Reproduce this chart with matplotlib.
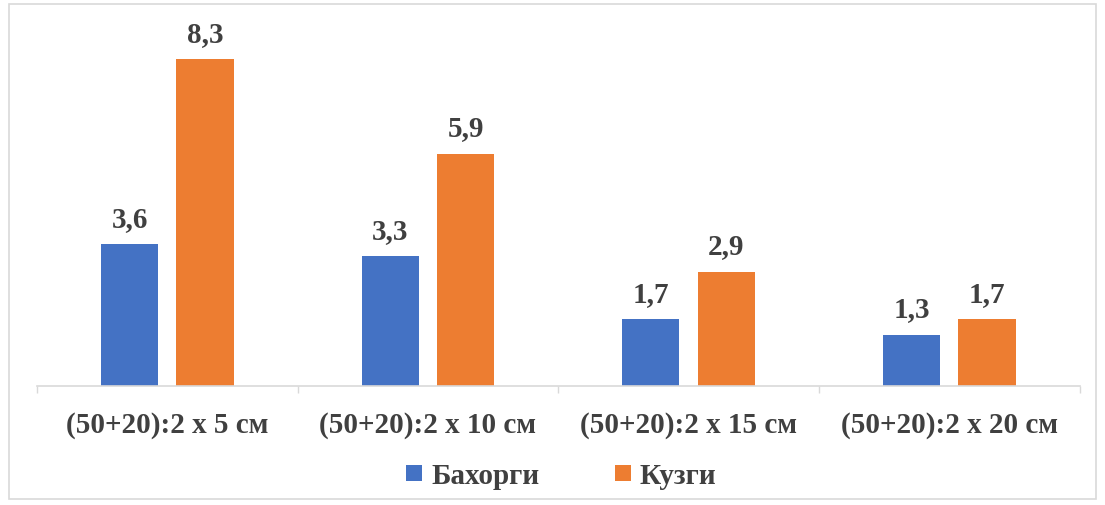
import matplotlib

matplotlib.use("Agg")
import matplotlib.pyplot as plt
import numpy as np
from matplotlib.patches import Rectangle

categories = ["(50+20):2 x 5 см", "(50+20):2 x 10 см", "(50+20):2 x 15 см", "(50+20):2 x 20 см"]
spring = [3.6, 3.3, 1.7, 1.3]
autumn = [8.3, 5.9, 2.9, 1.7]
series_names = ["Бахорги", "Кузги"]

BLUE = "#4472C4"
ORANGE = "#ED7D31"
TEXT = "#404040"
GRID = "#D9D9D9"

plt.rcParams["font.family"] = ["Liberation Serif", "DejaVu Serif"]
plt.rcParams["font.weight"] = "bold"

fig = plt.figure(figsize=(11.05, 5.06), dpi=100)
fig.patches.append(Rectangle((0.008, 0.012), 0.984, 0.978, transform=fig.transFigure,
                             fill=False, edgecolor=GRID, linewidth=1.2))
ax = fig.add_axes([0.0335, 0.235, 0.9435, 0.70])

x = np.arange(len(categories))
w = 0.22
off = 0.145
b1 = ax.bar(x - off, spring, w, color=BLUE, label=series_names[0])
b2 = ax.bar(x + off, autumn, w, color=ORANGE, label=series_names[1])

for bars, vals in ((b1, spring), (b2, autumn)):
    for rect, v in zip(bars, vals):
        ax.annotate(f"{v:.1f}".replace(".", ","),
                    (rect.get_x() + rect.get_width() / 2, rect.get_height()),
                    xytext=(0, 9), textcoords="offset points", ha="center", va="bottom",
                    fontsize=21, fontweight="bold", color=TEXT)

ax.set_xlim(-0.5, len(categories) - 0.5)
ax.set_ylim(0, 9)
ax.set_xticks(x)
ax.set_xticklabels(categories, fontsize=21, fontweight="bold", color=TEXT)
ax.set_xticks(np.arange(-0.5, len(categories), 1), minor=True)
ax.tick_params(axis="x", which="major", length=0, pad=18)
ax.tick_params(axis="x", which="minor", length=5, color=GRID, width=1)
ax.set_yticks([])
for s in ("top", "right", "left"):
    ax.spines[s].set_visible(False)
ax.spines["bottom"].set_color(GRID)
ax.spines["bottom"].set_linewidth(1.2)

fig.legend(handles=[b1, b2], loc="center", bbox_to_anchor=(0.508, 1 - 477 / 506), ncol=2,
           frameon=False, fontsize=21, handlelength=0.55, handleheight=0.5,
           handletextpad=0.3, columnspacing=2.6, labelcolor=TEXT)

fig.savefig("out.png", dpi=100)
